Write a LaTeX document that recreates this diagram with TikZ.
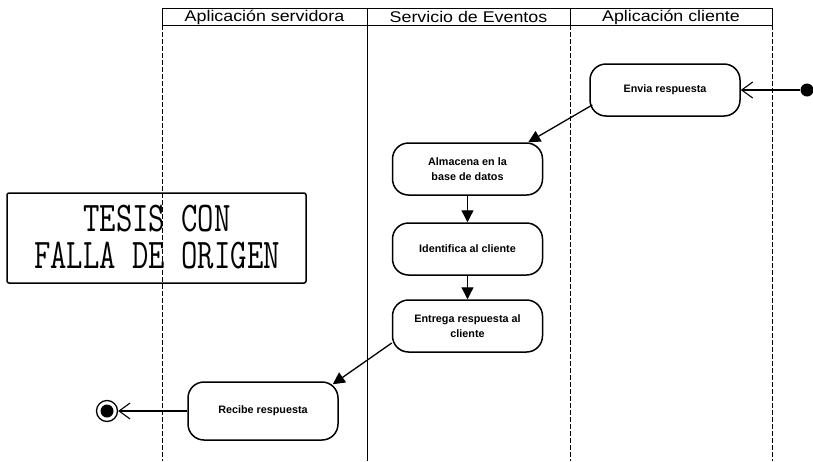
\documentclass[tikz,border=0pt]{standalone}
\usepackage{fontspec}
\setmainfont{Liberation Sans}
\usetikzlibrary{arrows.meta}
\begin{document}
\begin{tikzpicture}[x=1pt,y=-1pt,
  act/.style={draw, line width=1.5pt, rounded corners=16pt, minimum width=150pt,
    minimum height=52pt, align=center, inner sep=2pt,
    font=\bfseries\fontsize{10.8}{14.5}\selectfont},
  flow/.style={line width=1.3pt, -{Triangle[length=12pt,width=12pt]}},
  openflow/.style={line width=1.1pt, -{Straight Barb[length=11pt,width=16pt,line width=1.1pt]}},
  lane/.style={line width=0.6pt, dash pattern=on 5pt off 2pt},
  hdr/.style={inner sep=0pt, font=\fontsize{15.5}{17}\selectfont},
  stamptext/.style={inner sep=0pt, align=center,
    font=\ttfamily\addfontfeatures{FakeBold=1.2}\fontsize{31.8}{37}\selectfont},
]
\useasboundingbox (0,0) rectangle (813,461);

% swimlane header
\draw[line width=0.9pt] (162,8) rectangle (772,25);
\draw[line width=0.9pt] (367,8) -- (367,25);
\draw[line width=0.9pt] (570,8) -- (570,25);
\node[hdr] (h1) at (264.5,17) {\scalebox{1.15}[1]{Aplicación servidora}};
\node[hdr] (h2) at (468.5,17) {\scalebox{1.15}[1]{Servicio de Eventos}};
\node[hdr] (h3) at (671,17) {\scalebox{1.15}[1]{Aplicación cliente}};

% lane lines
\draw[lane] (162,25) -- (162,461);
\draw[line width=0.7pt] (367,25) -- (367,461);
\draw[lane] (570,25) -- (570,461);
\draw[lane] (772,25) -- (772,461);

% activities
\node[act] (envia) at (665,90) {Envia respuesta};
\node[act] (alm) at (467.5,169) {Almacena en la\\base de datos};
\node[act] (ident) at (467.5,249) {Identifica al cliente};
\node[act] (entrega) at (467.5,326) {Entrega respuesta al\\cliente};
\node[act, minimum height=58pt] (recibe) at (263,411) {Recibe respuesta};

% start and end
\node[circle, fill=black, minimum size=13pt, inner sep=0pt] (start) at (807,90) {};
\node[circle, draw, line width=1.3pt, minimum size=21pt, inner sep=0pt] (fin) at (107,411) {};
\fill (fin.center) circle (6.5);

% connectors
\draw[openflow] (start) -- (envia);
\draw[flow] ([shift={(3,15)}]envia.west) -- ([shift={(-15,0)}]alm.north east);
\draw[flow] (alm) -- (ident);
\draw[flow] (ident) -- (entrega);
\draw[flow] ([shift={(0,17)}]entrega.west) -- ([shift={(-6,3)}]recibe.north east);
\draw[openflow] (recibe) -- (fin);

% stamp
\node[draw, line width=1.5pt, rounded corners=2pt, minimum width=299pt,
  minimum height=90pt, inner sep=0pt] (stamp) at (156.5,238) {};
\node[stamptext] (stamptxt) at (157,237) {\scalebox{1}[1.33]{TESIS CON}\\\scalebox{1}[1.33]{FALLA DE ORIGEN}};
\end{tikzpicture}
\end{document}
